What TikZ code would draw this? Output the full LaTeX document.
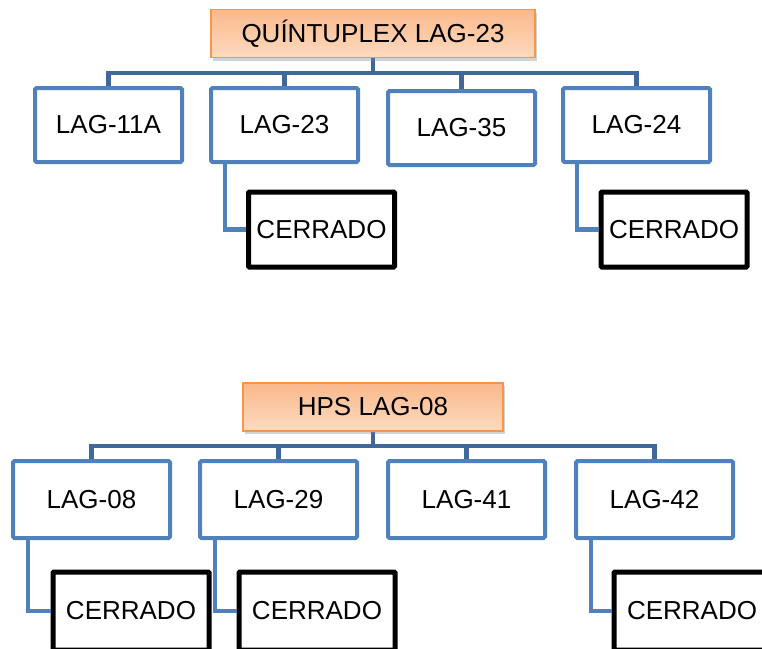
\documentclass[tikz,border=0pt]{standalone}
\usepackage{fontspec}
\setmainfont{Liberation Sans}
\usetikzlibrary{shadows}
\definecolor{unitblue}{RGB}{79,129,189}
\definecolor{busblue}{RGB}{65,104,154}
\definecolor{rootline}{RGB}{247,150,70}
\definecolor{roottop}{RGB}{250,185,140}
\definecolor{rootbot}{RGB}{253,218,190}
\tikzset{
  root/.style={draw=rootline, line width=1.5pt, top color=roottop, bottom color=rootbot,
    drop shadow={shadow xshift=2pt, shadow yshift=-3pt, opacity=0.35},
    minimum height=48pt, inner sep=0pt},
  unit/.style={draw=unitblue, line width=4pt, rounded corners=1.5pt, fill=white,
    minimum width=147pt, minimum height=74pt, inner sep=0pt},
  closed/.style={draw=black, line width=5pt, rounded corners=1pt, fill=white,
    minimum width=146pt, minimum height=75pt, inner sep=0pt},
  bus/.style={draw=busblue, line width=4.5pt},
  link/.style={draw=unitblue, line width=4.5pt},
}
\begin{document}
\begin{tikzpicture}[x=1pt, y=-1pt, font=\fontsize{26}{30}\selectfont]
  \useasboundingbox (0,0) rectangle (762,648);
  % first group
  \coordinate (qb) at (373,73);
  \draw[bus] (373,58) -- (qb);
  \draw[bus] (108.5,88) |- (qb) -| (636.5,88);
  \draw[bus] (284.5,88) -- (284.5,73);
  \draw[bus] (461.5,92) -- (461.5,73);
  \node[root, minimum width=324pt] (q) at (373,33.5) {QUÍNTUPLEX LAG-23};
  \node[unit] (q1) at (108.5,125) {LAG-11A};
  \node[unit] (q2) at (284.5,125) {LAG-23};
  \node[unit] (q3) at (461.5,128) {LAG-35};
  \node[unit] (q4) at (636.5,125) {LAG-24};
  \node[closed] (qx2) at (321.5,229.5) {CERRADO};
  \node[closed] (qx4) at (674,229.5) {CERRADO};
  \draw[link] ([xshift=16pt]q2.south west) |- (qx2.west);
  \draw[link] ([xshift=16pt]q4.south west) |- (qx4.west);
  % second group
  \coordinate (hb) at (373,446);
  \draw[bus] (373,431) -- (hb);
  \draw[bus] (91.5,461) |- (hb) -| (654.5,461);
  \draw[bus] (278.5,461) -- (278.5,446);
  \draw[bus] (466.5,461) -- (466.5,446);
  \node[root, minimum width=260pt] (h) at (373,407) {HPS LAG-08};
  \node[unit, minimum width=157pt, minimum height=77pt] (h1) at (91.5,499.5) {LAG-08};
  \node[unit, minimum width=157pt, minimum height=77pt] (h2) at (278.5,499.5) {LAG-29};
  \node[unit, minimum width=157pt, minimum height=77pt] (h3) at (466.5,499.5) {LAG-41};
  \node[unit, minimum width=157pt, minimum height=77pt] (h4) at (654.5,499.5) {LAG-42};
  \node[closed, minimum width=156pt, minimum height=78pt] (hx1) at (131,611) {CERRADO};
  \node[closed, minimum width=156pt, minimum height=78pt] (hx2) at (317,611) {CERRADO};
  \node[closed, minimum width=156pt, minimum height=78pt] (hx4) at (692,611) {CERRADO};
  \draw[link] ([xshift=17pt]h1.south west) |- (hx1.west);
  \draw[link] ([xshift=17pt]h2.south west) |- (hx2.west);
  \draw[link] ([xshift=17pt]h4.south west) |- (hx4.west);
\end{tikzpicture}
\end{document}
